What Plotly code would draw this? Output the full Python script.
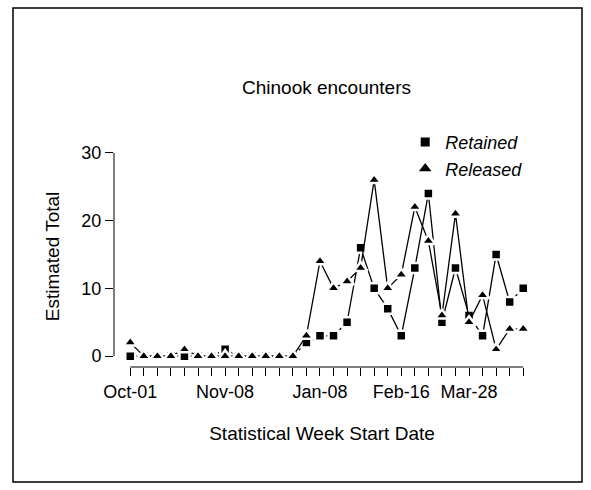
import plotly.graph_objects as go

weeks = list(range(30))
retained = [0, 0, 0, 0, 0, 0, 0, 1, 0, 0, 0, 0, 0, 2, 3, 3, 5, 16, 10, 7, 3, 13, 24, 5, 13, 6, 3, 15, 8, 10]
released = [2, 0, 0, 0, 1, 0, 0, 0, 0, 0, 0, 0, 0, 3, 14, 10, 11, 13, 26, 10, 12, 22, 17, 6, 21, 5, 9, 1, 4, 4]
label_pos = [0, 7, 14, 20, 25]
label_txt = ['Oct-01', 'Nov-08', 'Jan-08', 'Feb-16', 'Mar-28']

ticktext = [label_txt[label_pos.index(w)] if w in label_pos else '' for w in weeks]

sq = dict(symbol='square', size=10, color='black', line=dict(color='white', width=2.5))
tri = dict(symbol='triangle-up', size=12, color='black', line=dict(color='white', width=2.5))

fig = go.Figure()
fig.add_trace(go.Scatter(x=weeks, y=retained, mode='lines+markers', showlegend=False,
                         line=dict(color='black', width=1.3), marker=sq))
fig.add_trace(go.Scatter(x=weeks, y=released, mode='lines+markers', showlegend=False,
                         line=dict(color='black', width=1.3), marker=tri))
# legend entries: symbols only
fig.add_trace(go.Scatter(x=[None], y=[None], mode='markers', name='<i>Retained</i>',
                         marker=dict(symbol='square', size=9, color='black')))
fig.add_trace(go.Scatter(x=[None], y=[None], mode='markers', name='<i>Released</i>',
                         marker=dict(symbol='triangle-up', size=11, color='black')))

fig.update_layout(
    width=591, height=490, plot_bgcolor='white', paper_bgcolor='white',
    margin=dict(l=114, r=61, t=146, b=123),
    font=dict(family='Liberation Sans, Arial', size=18, color='black'),
    showlegend=True,
    legend=dict(x=0.70, y=1.10, xanchor='left', yanchor='top', bgcolor='rgba(0,0,0,0)',
                font=dict(size=18), itemwidth=30, tracegroupgap=0),
    xaxis=dict(range=[-1.2, 29.5], tickmode='array', tickvals=weeks, ticktext=ticktext,
               ticks='outside', ticklen=8, tickcolor='black', showgrid=False, zeroline=False,
               showline=False, automargin=False,
               title=dict(text='Statistical Week Start Date', standoff=26, font=dict(size=19))),
    yaxis=dict(range=[-1.6, 31], tickvals=[0, 10, 20, 30], ticks='outside', ticklen=8,
               tickcolor='black', showgrid=False, zeroline=False, showline=False, automargin=False,
               title=dict(text='Estimated Total', standoff=16, font=dict(size=19))),
)
fig.add_shape(type='line', xref='x', yref='paper', x0=0, x1=29, y0=0, y1=0, line=dict(color='black', width=1))
fig.add_shape(type='line', xref='paper', yref='y', x0=0, x1=0, y0=0, y1=30, line=dict(color='black', width=1))
fig.add_shape(type='rect', xref='paper', yref='paper', x0=-101/416, x1=(582-114)/416,
              y0=-(482-367)/221, y1=(367-8)/221, line=dict(color='black', width=1.5))
fig.add_annotation(text='Chinook encounters', xref='paper', yref='paper', x=(326-114)/416, y=(367-75)/221,
                   showarrow=False, font=dict(size=19))
fig.write_html('out.html', config={'displayModeBar': False},
               post_script="document.body.style.margin='0';")
